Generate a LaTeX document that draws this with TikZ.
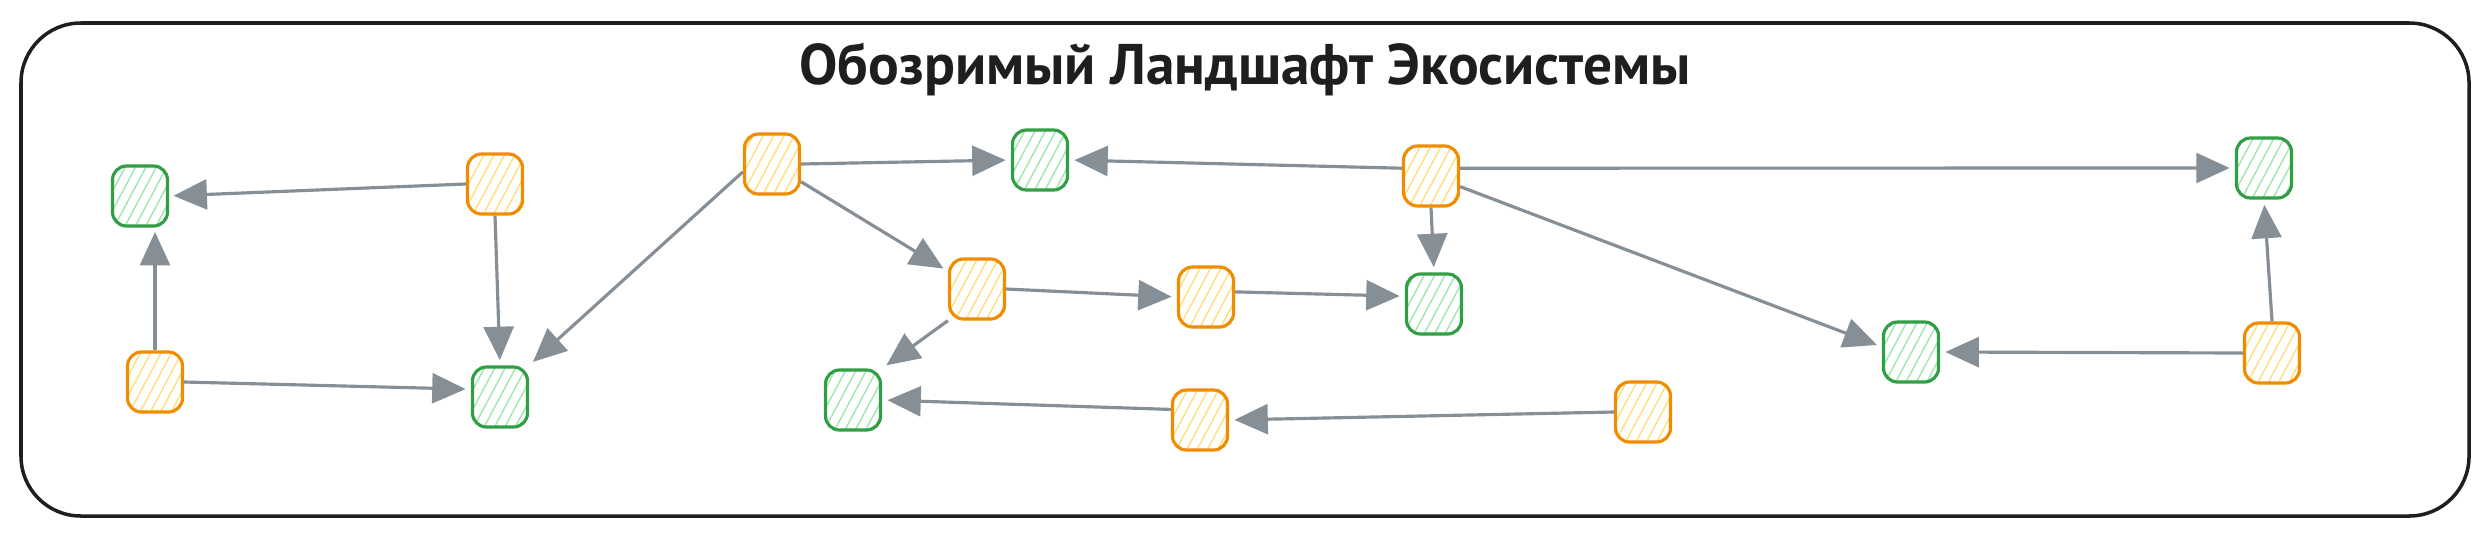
\documentclass[tikz,border=0pt]{standalone}
\usepackage{fontspec}
\setmainfont{Liberation Sans}
\newfontfamily\titlefont{PT Sans}
\usetikzlibrary{arrows.meta,patterns.meta}
\definecolor{framegray}{HTML}{1E1E1E}
\definecolor{linkgray}{HTML}{868E96}
\definecolor{srcorange}{HTML}{F08C00}
\definecolor{srcfill}{HTML}{FFDE7A}
\definecolor{sinkgreen}{HTML}{2F9E44}
\definecolor{sinkfill}{HTML}{9FE6AC}
\tikzset{
  >={Triangle[length=9.5pt,width=8.5pt]},
  % ramme
  board/.style={draw=framegray,line width=1pt,rounded corners=17pt},
  heading/.style={font=\titlefont\bfseries\fontsize{16.3}{19}\selectfont,text=framegray,inner sep=0pt},
  % noder
  box/.style={rectangle,rounded corners=4pt,line width=0.9pt,inner sep=0pt,
              minimum width=0.55cm,minimum height=0.6cm},
  src/.style={box,draw=srcorange,pattern color=srcfill,
              pattern={Lines[angle=62,distance=2.6pt,line width=0.4pt]}},
  sink/.style={box,draw=sinkgreen,pattern color=sinkfill,
               pattern={Lines[angle=62,distance=2.6pt,line width=0.4pt]}},
  % kanter
  link/.style={->,draw=linkgray,line width=0.9pt,shorten >=1.5pt},
}
\begin{document}
\begin{tikzpicture}[x=0.01cm,y=-0.01cm]
  \useasboundingbox (0,0) rectangle (2489,539);
  \draw[board] (21,23) rectangle (2469,516);
  \node[heading,anchor=base] (t) at (1245,84) {Обозримый Ландшафт Экосистемы};
  \node[sink] (a) at (140,196) {};
  \node[src]  (b) at (495,184) {};
  \node[src]  (c) at (155,382) {};
  \node[sink] (d) at (500,397) {};
  \node[src]  (e) at (772,164) {};
  \node[sink] (f) at (1040,160) {};
  \node[src]  (g) at (1431,176) {};
  \node[src]  (h) at (977,289) {};
  \node[src]  (i) at (1206,297) {};
  \node[sink] (j) at (1434,304) {};
  \node[sink] (k) at (853,400) {};
  \node[src]  (l) at (1200,420) {};
  \node[src]  (m) at (1643,412) {};
  \node[sink] (n) at (2264,168) {};
  \node[sink] (o) at (1911,352) {};
  \node[src]  (p) at (2272,353) {};
  % venstre del
  \draw[link] (b.west) -- (a.east);
  \draw[link] (c.north) -- (c.north |- a.south);
  \draw[link] (b.south) -- (d.north);
  \draw[link] (c.east) -- (d.165);
  \draw[link] (e.195) -- (d.north east);
  % midten
  \draw[link] (e.east) -- (f.west);
  \draw[link] (e) -- (h);
  \draw[link] (g.165) -- (f.east);
  \draw[link] (g.south) -- (j.north);
  \draw[link] (h.east) -- (i.west);
  \draw[link] (i.10) -- (j.165);
  \draw[link] (h.south west) -- (k.north east);
  \draw[link] (l.160) -- (k.east);
  \draw[link] (m.west) -- (l.east);
  % hoyre del
  \draw[link] (g.15) -- (n.west);
  \draw[link] (g.-20) -- (o.170);
  \draw[link] (p.west) -- (o.east);
  \draw[link] (p.north) -- (n.south);
\end{tikzpicture}
\end{document}
